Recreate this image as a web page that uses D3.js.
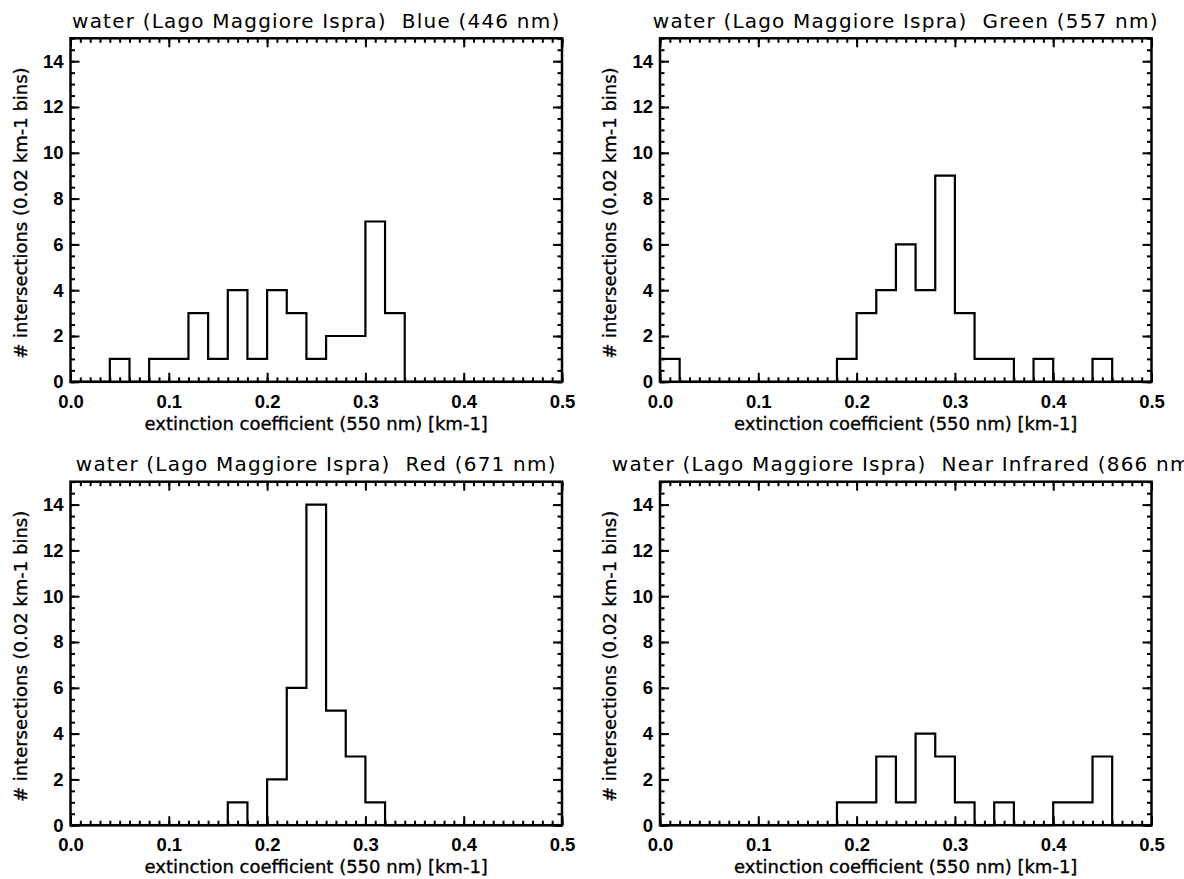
<!DOCTYPE html>
<html>
<head>
<meta charset="utf-8">
<script src="https://cdn.jsdelivr.net/npm/d3@7"></script>
<style>
  body { margin: 0; background: #fff; overflow: hidden; }
  text { font-family: "DejaVu Sans", sans-serif; fill: #000; }
</style>
</head>
<body>
<div id="chart"></div>
<script>
var width = 1184
var height = 879

// bin starts (0.02 km-1 bins)
var binStarts = [0.00,0.02,0.04,0.06,0.08,0.10,0.12,0.14,0.16,0.18,0.20,0.22,0.24,
                 0.26,0.28,0.30,0.32,0.34,0.36,0.38,0.40,0.42,0.44,0.46,0.48]

// counts per bin
var blueCounts  = [0,0,1,0,1,1,3,1,4,1,4,3,1,2,2,7,3,0,0,0,0,0,0,0,0]
var greenCounts = [1,0,0,0,0,0,0,0,0,1,3,4,6,4,9,3,1,1,0,1,0,0,1,0,0]
var redCounts   = [0,0,0,0,0,0,0,0,1,0,2,6,14,5,3,1,0,0,0,0,0,0,0,0,0]
var nirCounts   = [0,0,0,0,0,0,0,0,0,1,1,3,1,4,3,1,0,1,0,0,1,1,3,0,0]

var bandNames = ["Blue (446 nm)", "Green (557 nm)", "Red (671 nm)", "Near Infrared (866 nm)"]
var site = "water (Lago Maggiore Ispra)"

var xTicks = [0.0,0.1,0.2,0.3,0.4,0.5]
var yTicks = [0,2,4,6,8,10,12,14]
var xDomain = [0,0.5]
var yDomain = [0,15]
var xLabel = "extinction coefficient (550 nm) [km-1]"
var yLabel = "# intersections (0.02 km-1 bins)"

// panel boxes
var panels = [
  {left:70.5, top:38.3,  counts:blueCounts,  band:bandNames[0]},
  {left:660,  top:38.3,  counts:greenCounts, band:bandNames[1]},
  {left:70.5, top:481.7, counts:redCounts,   band:bandNames[2]},
  {left:660,  top:481.7, counts:nirCounts,   band:bandNames[3]}
]
var pw = 491.5
var ph = 343.5

var svg = d3.select('#chart')
      .append('svg')
      .attr('width',width)
      .attr('height',height);

var xMinor = d3.range(0,0.5001,0.01)
var yMinor = d3.range(0,15.001,0.5)

panels.forEach(function(p){
  var g = svg.append('g').attr('transform','translate(' + p.left + ',' + p.top + ')')

  var x = d3.scaleLinear().domain(xDomain).range([0,pw])
  var y = d3.scaleLinear().domain(yDomain).range([ph,0])

  // minor ticks (inward, on all four sides)
  g.append('g').attr('transform','translate(0,' + ph + ')')
    .call(d3.axisBottom(x).tickValues(xMinor).tickSize(-4.5).tickFormat(''))
  g.append('g')
    .call(d3.axisTop(x).tickValues(xMinor).tickSize(-4.5).tickFormat(''))
  g.append('g')
    .call(d3.axisLeft(y).tickValues(yMinor).tickSize(-4.5).tickFormat(''))
  g.append('g').attr('transform','translate(' + pw + ',0)')
    .call(d3.axisRight(y).tickValues(yMinor).tickSize(-4.5).tickFormat(''))

  // major ticks
  g.append('g').attr('class','x-axis').attr('transform','translate(0,' + ph + ')')
    .call(d3.axisBottom(x).tickValues(xTicks).tickSize(-9).tickPadding(13).tickFormat(d3.format('.1f')))
  g.append('g')
    .call(d3.axisTop(x).tickValues(xTicks).tickSize(-9).tickFormat(''))
  g.append('g').attr('class','y-axis')
    .call(d3.axisLeft(y).tickValues(yTicks).tickSize(-9).tickPadding(7).tickFormat(d3.format('d')))
  g.append('g').attr('transform','translate(' + pw + ',0)')
    .call(d3.axisRight(y).tickValues(yTicks).tickSize(-9).tickFormat(''))

  g.selectAll('.domain').remove()
  g.selectAll('.tick line').attr('stroke','#000').attr('stroke-width',2)
  g.selectAll('.tick text')
    .style('font-size','18.5px').style('font-weight','bold')
    .style('font-family','"Liberation Sans", Arial, sans-serif')

  // histogram outline
  var pts = [[0,0]]
  p.counts.forEach(function(c,i){ pts.push([binStarts[i],c]) })
  pts.push([xDomain[1],0])
  var line = d3.line()
      .x(function(d){return x(d[0])})
      .y(function(d){return y(d[1])})
      .curve(d3.curveStepAfter)
  g.append('path')
    .attr('d',line(pts))
    .attr('fill','none')
    .attr('stroke','#000')
    .attr('stroke-width',2.2)

  // frame
  g.append('rect')
    .attr('width',pw).attr('height',ph)
    .attr('fill','none').attr('stroke','#000').attr('stroke-width',2.5)

  // title
  g.append('text')
    .attr('x',pw/2).attr('y',-10.5)
    .attr('text-anchor','middle')
    .style('font-size','20px')
    .style('letter-spacing','1.2px')
    .attr('xml:space','preserve')
    .text(site + '  ' + p.band)

  // x label
  g.append('text')
    .attr('x',pw/2).attr('y',ph + 48)
    .attr('text-anchor','middle')
    .style('font-size','18px')
    .style('stroke','#000').style('stroke-width',0.35)
    .text(xLabel)

  // y label
  g.append('text')
    .attr('transform','translate(-44,' + (ph/2 + 3) + ') rotate(-90)')
    .attr('text-anchor','middle')
    .style('font-size','18px')
    .style('stroke','#000').style('stroke-width',0.35)
    .text(yLabel)
})
</script>
</body>
</html>
